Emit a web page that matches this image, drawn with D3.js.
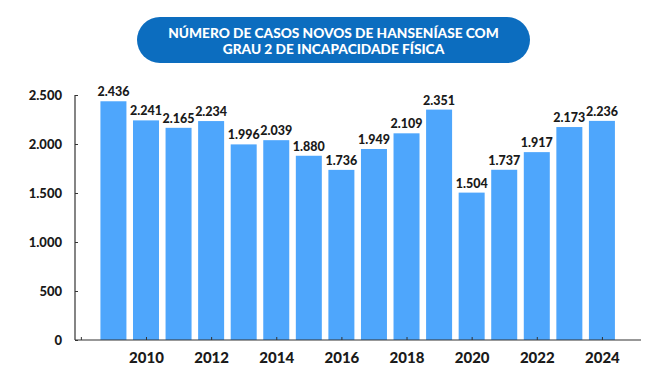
<!DOCTYPE html>
<html><head><meta charset="utf-8">
<script src="https://cdn.jsdelivr.net/npm/d3@7"></script>
<style>body{margin:0;background:#fff}svg{display:block}text{font-family:Lato,"Open Sans",sans-serif}</style>
</head><body>
<svg id="c" width="670" height="380"></svg>
<script>
const years = [2009,2010,2011,2012,2013,2014,2015,2016,2017,2018,2019,2020,2021,2022,2023,2024];
const values = [2436,2241,2165,2234,1996,2039,1880,1736,1949,2109,2351,1504,1737,1917,2173,2236];
const yTicks = [0,500,1000,1500,2000,2500];
const xTicks = [2008,2010,2012,2014,2016,2018,2020,2022,2024];
const titleLines = ["NÚMERO DE CASOS NOVOS DE HANSENÍASE COM","GRAU 2 DE INCAPACIDADE FÍSICA"];

const fmt = v => d3.format(",")(v).replace(/,/g,".");
const svg = d3.select("#c");

// title pill
const g0 = svg.append("g");
g0.append("rect").attr("x",137).attr("y",17).attr("width",393).attr("height",46).attr("rx",23).attr("fill","#0c6dbf");
g0.selectAll("text.t").data(titleLines).join("text")
  .attr("x",333.5).attr("y",(d,i)=>37.5+i*16).attr("text-anchor","middle")
  .attr("fill","#fff").attr("font-size",13.7).attr("font-weight",900).text(d=>d);

const x = d3.scaleLinear().domain([2007.82,2025.2]).range([75,641]);
const y = d3.scaleLinear().domain([0,2500]).range([340,95]);
const bw = 26;

svg.selectAll("rect.bar").data(years).join("rect").attr("class","bar")
  .attr("x",(d)=>x(d)-bw/2).attr("width",bw)
  .attr("y",(d,i)=>y(values[i])).attr("height",(d,i)=>y(0)-y(values[i]))
  .attr("fill","#4ea6fc");

svg.selectAll("text.val").data(years).join("text").attr("class","val")
  .attr("x",d=>x(d)).attr("y",(d,i)=>y(values[i])-5).attr("text-anchor","middle")
  .attr("font-size",12.5).attr("font-weight",900).attr("fill","#1a1a1a")
  .text((d,i)=>fmt(values[i]));

// y axis
const ya = svg.append("g").attr("transform","translate(75,0)")
  .call(d3.axisRight(y).tickValues(yTicks).tickSize(3).tickFormat(fmt));
ya.select(".domain").attr("stroke","#333").attr("stroke-width",1.2).attr("d","M0,95V340");
ya.selectAll(".tick line").attr("stroke","#333");
ya.selectAll(".tick text").attr("x",-13).attr("text-anchor","end")
  .attr("font-size",13).attr("font-weight",900).attr("fill","#1a1a1a").attr("font-family","Lato,sans-serif");

// x axis
const xa = svg.append("g").attr("transform","translate(0,340)")
  .call(d3.axisTop(x).tickValues(xTicks).tickSize(3).tickFormat(d=>d===2008?"":d));
xa.select(".domain").attr("stroke","#333").attr("stroke-width",1.2).attr("d","M75,0H641");
xa.selectAll(".tick line").attr("stroke","#333");
xa.selectAll(".tick text").attr("y",23).attr("dy",0)
  .attr("font-size",15).attr("font-weight",900).attr("fill","#1a1a1a").attr("font-family","Lato,sans-serif");
</script>
</body></html>
